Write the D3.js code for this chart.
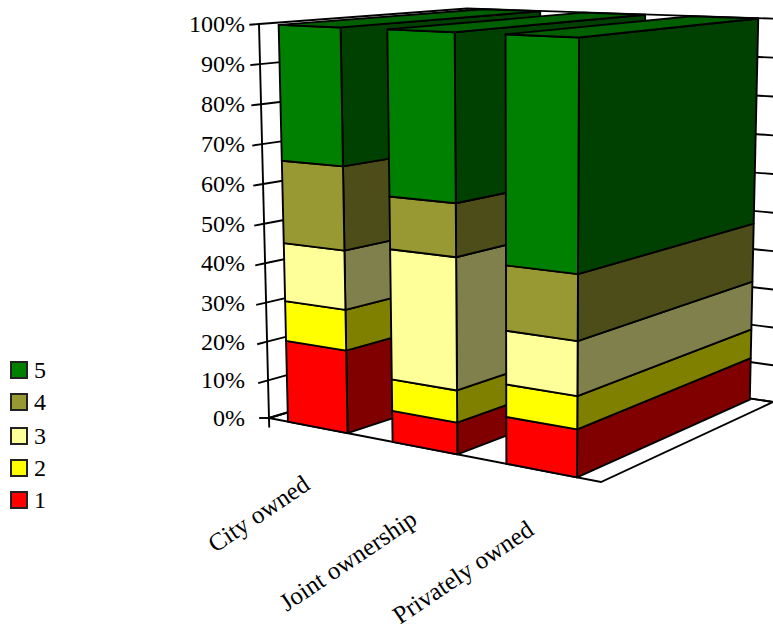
<!DOCTYPE html>
<html>
<head>
<meta charset="utf-8">
<script src="https://cdn.jsdelivr.net/npm/d3@7/dist/d3.min.js"></script>
<style>
html,body{margin:0;padding:0;background:#fff}
svg{display:block}
text{font-family:"Liberation Serif","Times New Roman",serif;fill:#000}
</style>
</head>
<body>
<svg id="chart" width="773" height="633"></svg>
<script>
// Ownership categories and the five stacked response levels (percent of each category)
const categories = ["City owned", "Joint ownership", "Privately owned"];
const levels = ["1", "2", "3", "4", "5"];
const level1 = [21.0, 7.9, 11.4];
const level2 = [10.1, 7.8, 7.7];
const level3 = [14.6, 31.7, 12.6];
const level4 = [20.6, 12.7, 15.2];
const level5 = [33.7, 39.9, 53.1];
const percentTicks = d3.range(0, 101, 10);

const frontColors = ["#ff0000", "#ffff00", "#ffff99", "#999933", "#008000"];
const sideColors = ["#800000", "#808000", "#80804d", "#4d4d1a", "#004000"];
const topColor = "#006000";

// Perspective box: corners listed as near-left, near-right, far-right, far-left
const floorQuad = [[269, 418], [601, 482], [773, 402], [476, 356]];
const ceilQuad = [[259, 24], [604, 38.5], [783, 19], [467, 8.5]];

function quadMap(q) {
  const [[x0, y0], [x1, y1], [x2, y2], [x3, y3]] = q;
  const dx1 = x1 - x2, dx2 = x3 - x2, sx = x0 - x1 + x2 - x3;
  const dy1 = y1 - y2, dy2 = y3 - y2, sy = y0 - y1 + y2 - y3;
  const den = dx1 * dy2 - dx2 * dy1;
  const g = (sx * dy2 - dx2 * sy) / den, h = (dx1 * sy - sx * dy1) / den;
  const a = x1 - x0 + g * x1, b = x3 - x0 + h * x3;
  const d = y1 - y0 + g * y1, e = y3 - y0 + h * y3;
  return (u, w) => {
    const k = g * u + h * w + 1;
    return [(a * u + b * w + x0) / k, (d * u + e * w + y0) / k];
  };
}
const floorAt = quadMap(floorQuad), ceilAt = quadMap(ceilQuad);

// Height between the floor and ceiling planes, very slightly stretched towards the top
const heightScale = d3.scalePow().exponent(1.02).domain([0, 100]).range([0, 1]);
function project(u, w, value) {
  const t = value < 0 ? value / 100 : heightScale(value), p = floorAt(u, w), q = ceilAt(u, w);
  return [p[0] + (q[0] - p[0]) * t, p[1] + (q[1] - p[1]) * t];
}

const svg = d3.select("#chart");
const line = d3.line();
const poly = pts => line(pts) + "Z";

// Walls and floor
const frame = svg.append("g").attr("fill", "none").attr("stroke", "#000").attr("stroke-width", 1.9);
percentTicks.forEach(v => {
  frame.append("path").attr("d", line([project(0, 0, v), project(0, 1, v), project(1, 1, v)]));
  const start = project(0, 0, v), end = project(0, -0.04, v);
  if (v === 0) end[1] = start[1];
  frame.append("path").attr("d", line([end, start]));
});
frame.append("path").attr("d", line([project(0, 0, -2.4), project(0, 0, 100)]));
frame.append("path").attr("d", line([project(0, 1, 0), project(0, 1, 100)]));
frame.append("path").attr("d", poly([project(0, 0, 0), project(1, 0, 0), project(1, 1, 0), project(0, 1, 0)]));

// Tick labels
svg.append("g").selectAll("text").data(percentTicks).join("text")
  .attr("x", 245)
  .attr("y", v => project(0, 0, v)[1] + 8)
  .attr("text-anchor", "end")
  .attr("font-size", 24)
  .text(v => v + "%");

// Stacked columns
const rows = categories.map((c, i) => ({
  "1": level1[i], "2": level2[i], "3": level3[i], "4": level4[i], "5": level5[i]
}));
const stacked = d3.stack().keys(levels)(rows);

const band = d3.scaleBand().domain(categories).range([0, 1]).paddingInner(0.42).paddingOuter(0.19);
const depthNear = 0, depthFar = 0.985;

categories.forEach((cat, i) => {
  const u0 = band(cat), u1 = u0 + band.bandwidth();
  const g = svg.append("g").attr("stroke", "#000").attr("stroke-width", 1.9).attr("stroke-linejoin", "round");
  stacked.forEach((layer, s) => {
    const [lo, hi] = layer[i];
    g.append("path").attr("fill", sideColors[s]).attr("d", poly([
      project(u1, depthNear, lo), project(u1, depthFar, lo), project(u1, depthFar, hi), project(u1, depthNear, hi)
    ]));
    g.append("path").attr("fill", frontColors[s]).attr("d", poly([
      project(u0, depthNear, lo), project(u1, depthNear, lo), project(u1, depthNear, hi), project(u0, depthNear, hi)
    ]));
  });
  g.append("path").attr("fill", topColor).attr("d", poly([
    project(u0, depthNear, 100), project(u1, depthNear, 100), project(u1, depthFar, 100), project(u0, depthFar, 100)
  ]));
});

// Category labels, slanted and ending below each column
const labelDrop = [61, 75, 63];
svg.append("g").selectAll("text").data(categories).join("text")
  .attr("text-anchor", "end")
  .attr("font-size", 25)
  .attr("transform", (c, i) => {
    const p = project(band(c) + band.bandwidth() / 2, 0, 0);
    return `translate(${p[0] - 6},${p[1] + labelDrop[i]}) rotate(-34)`;
  })
  .text(c => c);

// Legend, highest level first
const legendRows = [370, 402, 436, 468, 500];
const legend = svg.append("g").selectAll("g").data(levels.slice().reverse()).join("g")
  .attr("transform", (d, i) => `translate(11,${legendRows[i]})`);
legend.append("rect").attr("x", 0).attr("y", -8).attr("width", 16).attr("height", 16)
  .attr("fill", d => frontColors[levels.indexOf(d)])
  .attr("stroke", "#222").attr("stroke-width", 2);
legend.append("text").attr("x", 23).attr("y", 8).attr("font-size", 24).text(d => d);
</script>
</body>
</html>
